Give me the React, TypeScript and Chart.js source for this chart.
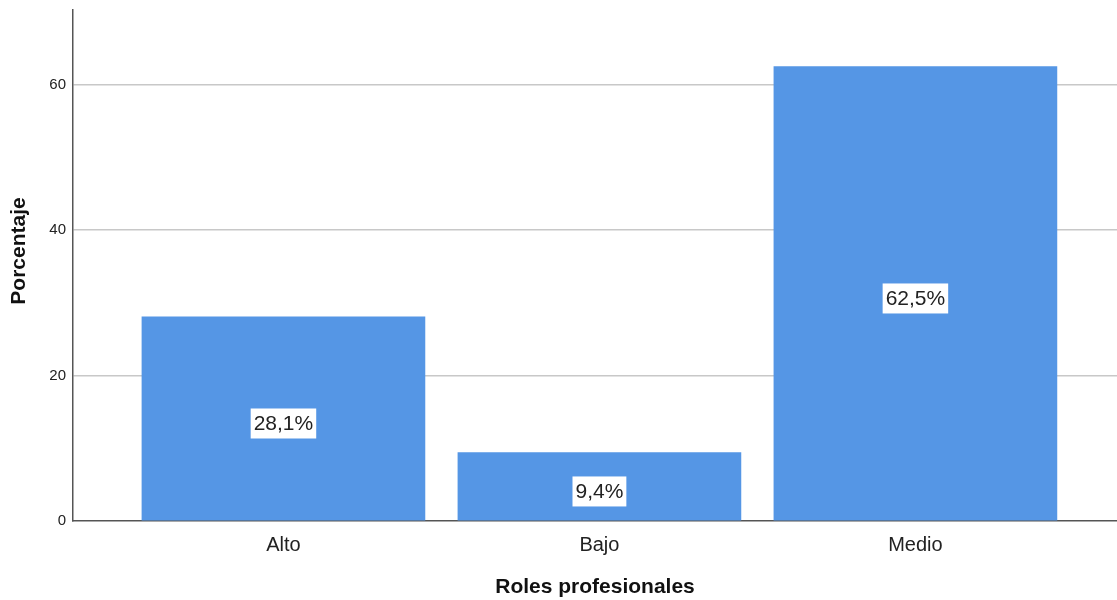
import React, { useEffect, useRef } from "react";
import { Chart, registerables } from "chart.js";

Chart.register(...registerables);

const categories = ["Alto", "Bajo", "Medio"];
const percentages = [28.1, 9.4, 62.5];
const valueLabels = ["28,1%", "9,4%", "62,5%"];
const yTicks = [0, 20, 40, 60];
const yTitle = "Porcentaje";
const xTitle = "Roles profesionales";

const FONT = "'Liberation Sans', Arial, sans-serif";

const barLabelPlugin = {
  id: "barLabels",
  afterDatasetsDraw(chart: any) {
    const ctx = chart.ctx;
    const meta = chart.getDatasetMeta(0);
    ctx.save();
    ctx.font = `21px ${FONT}`;
    ctx.textAlign = "center";
    ctx.textBaseline = "middle";
    meta.data.forEach((bar: any, i: number) => {
      const text = valueLabels[i];
      const cy = (bar.y + bar.base) / 2 + 5;
      const w = ctx.measureText(text).width + 6;
      const h = 30;
      ctx.fillStyle = "#ffffff";
      ctx.fillRect(bar.x - w / 2, cy - h / 2, w, h);
      ctx.fillStyle = "#222222";
      ctx.fillText(text, bar.x, cy + 1);
    });
    // y axis title
    ctx.save();
    ctx.translate(19, 251);
    ctx.rotate(-Math.PI / 2);
    ctx.font = `bold 21px ${FONT}`;
    ctx.fillStyle = "#111111";
    ctx.fillText(yTitle, 0, 0);
    ctx.restore();
    ctx.restore();
  },
};

export default function App() {
  const ref = useRef<HTMLCanvasElement>(null);
  useEffect(() => {
    document.body.style.margin = "0";
    const chart = new Chart(ref.current!, {
      type: "bar",
      data: {
        datasets: [
          {
            data: categories.map((c, i) => ({ x: i + 1, y: percentages[i] })),
            backgroundColor: "#5596e5",
            borderWidth: 0,
            barThickness: 283,
          },
        ],
      },
      options: {
        animation: false,
        responsive: false,
        maintainAspectRatio: false,
        layout: { padding: { top: 10, right: 0, left: 0, bottom: 0 } },
        plugins: { legend: { display: false }, tooltip: { enabled: false } },
        scales: {
          x: {
            type: "linear",
            offset: false,
            min: 0.334,
            max: 3.638,
            grid: { display: false, drawTicks: false, offset: false },
            border: { display: true, color: "#555555", width: 1.5 },
            afterBuildTicks: (s: any) => {
              s.ticks = categories.map((_, i) => ({ value: i + 1 }));
            },
            afterFit: (s: any) => {
              s.height = 79;
              s.paddingLeft = 0;
              s.paddingRight = 0;
            },
            ticks: {
              autoSkip: false,
              maxRotation: 0,
              padding: 12,
              color: "#222222",
              font: { family: FONT, size: 20 },
              callback: (v: any) => categories[Number(v) - 1] ?? "",
            },
            title: {
              display: true,
              text: xTitle,
              color: "#111111",
              font: { family: FONT, size: 21, weight: "bold" },
              padding: { top: 0, bottom: 0 },
            },
          },
          y: {
            min: 0,
            max: 70.3,
            afterBuildTicks: (s: any) => {
              s.ticks = yTicks.map((v) => ({ value: v }));
            },
            afterFit: (s: any) => {
              s.width = 73;
              s.paddingTop = 0;
              s.paddingBottom = 0;
            },
            grid: {
              drawTicks: false,
              color: (c: any) => (c.tick && c.tick.value === 0 ? "rgba(0,0,0,0)" : "#c8c8c8"),
              lineWidth: 1.5,
            },
            border: { display: true, color: "#555555", width: 1.5 },
            ticks: {
              padding: 7,
              color: "#222222",
              font: { family: FONT, size: 15 },
            },
            title: { display: false },
          },
        },
      },
      plugins: [barLabelPlugin],
    } as any);
    return () => chart.destroy();
  }, []);
  return <canvas ref={ref} width={1117} height={600} style={{ display: "block" }} />;
}
